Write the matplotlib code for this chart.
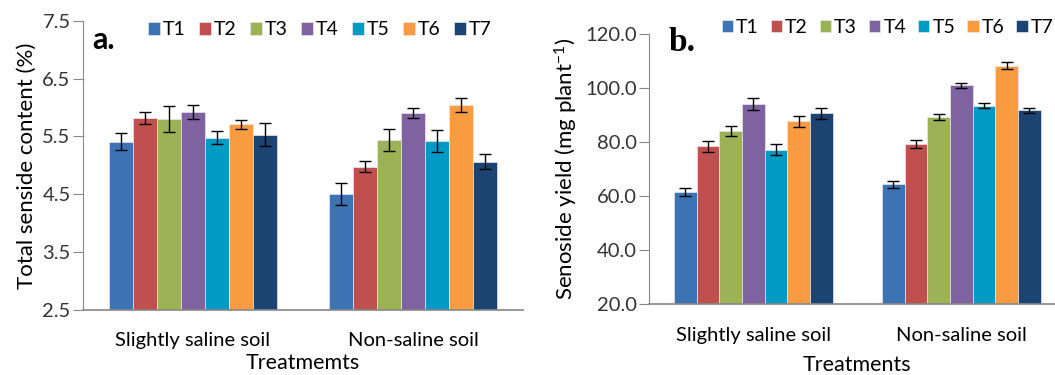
import matplotlib
matplotlib.use('Agg')
import matplotlib.pyplot as plt
import numpy as np

plt.rcParams['font.family'] = ['Lato', 'DejaVu Sans']
plt.rcParams['mathtext.fontset'] = 'custom'
plt.rcParams['mathtext.rm'] = 'Lato'
plt.rcParams['mathtext.it'] = 'Lato:italic'

SOILS = ['Slightly saline soil', 'Non-saline soil']
TREATMENTS = ['T1', 'T2', 'T3', 'T4', 'T5', 'T6', 'T7']
COLORS = ['#3B73B5', '#C0504D', '#9BB255', '#7F63A0', '#009AC4', '#F99B40', '#1B4473']

# senside content (%), per treatment: [slightly saline, non-saline]
content = [[5.41, 4.50], [5.82, 4.98], [5.80, 5.44], [5.92, 5.90],
           [5.48, 5.42], [5.71, 6.05], [5.53, 5.06]]
content_err = [[0.15, 0.19], [0.10, 0.10], [0.22, 0.19], [0.12, 0.09],
               [0.11, 0.19], [0.08, 0.12], [0.20, 0.13]]

# senoside yield (mg plant-1)
yld = [[61.6, 64.4], [78.5, 79.3], [84.2, 89.3], [94.2, 101.1],
       [77.2, 93.5], [87.8, 108.4], [90.7, 91.9]]
yld_err = [[1.4, 1.4], [2.1, 1.4], [1.9, 1.1], [2.1, 1.0],
           [2.0, 0.9], [2.1, 1.4], [2.1, 0.9]]


def draw_panel(ax, vals, errs, ylim, yticks, fmt, ylabel, xlabel, xpad):
    x = np.arange(len(SOILS))
    w = 0.109
    for i, t in enumerate(TREATMENTS):
        pos = x + (i - 3) * w
        ax.bar(pos, vals[i], w, bottom=0, color=COLORS[i], edgecolor='#e8e8e8',
               linewidth=0.5, label=t, zorder=2)
        ax.errorbar(pos, vals[i], yerr=errs[i], fmt='none', ecolor='black',
                    elinewidth=1.0, capsize=4, capthick=1.0, zorder=3)
    ax.set_ylim(*ylim)
    ax.set_xlim(-0.5, 1.5)
    ax.set_yticks(yticks)
    ax.set_yticklabels([fmt.format(v) for v in yticks], fontsize=14.5, color='#333333')
    ax.set_xticks(x)
    ax.set_xticklabels(SOILS, fontsize=14.5)
    ax.tick_params(axis='x', length=0, pad=16)
    ax.tick_params(axis='y', length=7, width=0.8, color='#888888', pad=2)
    for s in ['top', 'right']:
        ax.spines[s].set_visible(False)
    ax.spines['left'].set_color('#888888')
    ax.spines['bottom'].set_color('#888888')
    ax.spines['bottom'].set_linewidth(1.2)
    ax.set_ylabel(ylabel, fontsize=16)
    ax.set_xlabel(xlabel, fontsize=15.5, labelpad=xpad)


fig = plt.figure(figsize=(10.55, 3.75), dpi=100)
ax1 = fig.add_axes([0.0787, 0.1733, 0.417, 0.7715])
ax2 = fig.add_axes([0.6155, 0.1885, 0.3943, 0.72])

draw_panel(ax1, content, content_err, (2.5, 7.5), [2.5, 3.5, 4.5, 5.5, 6.5, 7.5],
           '{:.1f}', 'Total senside content (%)', 'Treatmemts', 3)
draw_panel(ax2, yld, yld_err, (20, 120), [20, 40, 60, 80, 100, 120],
           '{:.1f}', 'Senoside yield (mg plant$^{-1}$)', 'Treatments', 8)

ax1.legend(loc='upper left', bbox_to_anchor=(0.13, 1.025), ncol=7, frameon=False,
           fontsize=14, handlelength=0.6, handleheight=0.6, handletextpad=0.15,
           columnspacing=0.7, borderaxespad=0)
ax2.legend(loc='upper left', bbox_to_anchor=(0.155, 1.085), ncol=7, frameon=False,
           fontsize=14, handlelength=0.6, handleheight=0.6, handletextpad=0.15,
           columnspacing=0.6, borderaxespad=0)

ax1.text(0.022, 0.935, 'a.', transform=ax1.transAxes, fontsize=22, fontweight='bold',
         va='center', ha='left')
ax2.text(0.045, 0.97, 'b.', transform=ax2.transAxes, fontsize=24, fontweight='bold',
         family='Liberation Serif', va='center', ha='left')

fig.savefig('out.png', dpi=100)
